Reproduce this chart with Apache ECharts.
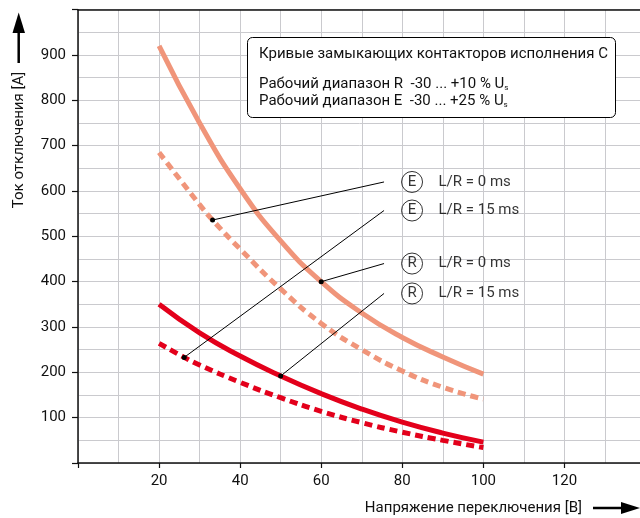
<!DOCTYPE html>
<html>
<head>
<meta charset="utf-8">
<script src="https://cdn.jsdelivr.net/npm/echarts@6/dist/echarts.min.js"></script>
<style>
  html, body { margin: 0; padding: 0; background: #fff; }
  #main { width: 640px; height: 518px; }
</style>
</head>
<body>
<div id="main"></div>
<script>
// curves: [voltage V, current A]
var orangeSolid = [[20, 920], [30, 750], [40, 605], [50, 490], [60, 400], [70, 331], [80, 277], [90, 234], [100, 196]];
var orangeDashed = [[20, 685], [30, 570], [33.2, 536], [40, 472], [50, 384], [60, 308], [70, 250], [80, 203], [90, 167], [100, 141]];
var redSolid = [[20, 350], [30, 287], [40, 236], [50, 192], [60, 153], [70, 119], [80, 90], [90, 66], [100, 46]];
var redDashed = [[20, 264], [26.2, 233], [30, 216], [40, 178], [50, 144], [60, 114], [70, 89], [80, 68], [90, 50], [100, 34]];

// leader lines: dot on a curve -> label
var leaderFrom = [orangeDashed[2], redDashed[1], orangeSolid[4], redSolid[3]];
var leaderTo = [[75.5, 620], [75.5, 557], [75.5, 440], [75.5, 374]];
var leaderLetter = ['E', 'E', 'R', 'R'];
var leaderText = ['L/R = 0 ms', 'L/R = 15 ms', 'L/R = 0 ms', 'L/R = 15 ms'];

var xTicks = [20, 40, 60, 80, 100, 120];
var yTicks = [100, 200, 300, 400, 500, 600, 700, 800, 900];

var FONT = 'Roboto';
var ORANGE = '#f0957a';
var RED = '#e3001b';
var GRID = '#cacace';

var myChart = echarts.init(document.getElementById('main'));

function curve(data, color, dashed) {
    return {
        type: 'line',
        data: data,
        smooth: 0.5,
        showSymbol: false,
        silent: true,
        lineStyle: {
            color: color,
            width: 5,
            type: dashed ? [8, 5] : 'solid',
            cap: 'butt'
        },
        z: 3
    };
}

var series = [
    curve(orangeSolid, ORANGE, false),
    curve(orangeDashed, ORANGE, true),
    curve(redSolid, RED, false),
    curve(redDashed, RED, true)
];

for (var i = 0; i < leaderFrom.length; i++) {
    series.push({
        type: 'line',
        data: [leaderFrom[i], leaderTo[i]],
        silent: true,
        symbol: 'circle',
        showSymbol: true,
        symbolSize: function (v, p) { return p.dataIndex === 0 ? 5 : 0; },
        itemStyle: { color: '#000' },
        lineStyle: { color: '#000', width: 1 },
        z: 5
    });
}

series.push({
    type: 'scatter',
    silent: true,
    symbolSize: 1,
    itemStyle: { color: 'transparent' },
    data: leaderTo,
    label: {
        show: true,
        position: 'right',
        distance: 17,
        color: '#000',
        formatter: function (p) {
            return '{c|' + leaderLetter[p.dataIndex] + '}{t|' + leaderText[p.dataIndex] + '}';
        },
        rich: {
            c: {
                width: 21, height: 21, lineHeight: 21,
                align: 'center',
                borderColor: '#000', borderWidth: 1, borderRadius: 11,
                fontFamily: FONT, fontSize: 15, color: '#000'
            },
            t: {
                padding: [0, 0, 0, 16],
                fontFamily: FONT, fontSize: 15, color: '#000'
            }
        }
    },
    z: 6
});

var option = {
    animation: false,
    backgroundColor: '#fff',
    textStyle: { fontFamily: FONT },
    grid: { left: 78, top: 9.7, right: -5.5, height: 453.3, containLabel: false, outerBoundsMode: 'none' },
    xAxis: [{
        type: 'value',
        min: 0, max: 140, interval: 20,
        axisLine: { show: true, onZero: false, lineStyle: { color: '#111', width: 1.5 } },
        axisTick: { show: true, length: 5, lineStyle: { color: '#111', width: 1.2 } },
        axisLabel: {
            margin: 11, fontSize: 15, color: '#111', fontFamily: FONT,
            formatter: function (v) { return xTicks.indexOf(v) >= 0 ? v : ''; }
        },
        splitLine: { show: true, lineStyle: { color: GRID, width: 1 } },
        minorTick: { show: false, splitNumber: 2 },
        minorSplitLine: { show: true, lineStyle: { color: GRID, width: 1 } }
    }, {
        type: 'value',
        position: 'top',
        min: 0, max: 140,
        axisLine: { show: true, onZero: false, lineStyle: { color: '#111', width: 1.5 } },
        axisTick: { show: false },
        axisLabel: { show: false },
        splitLine: { show: false }
    }],
    yAxis: {
        type: 'value',
        min: 0, max: 1000, interval: 100,
        axisLine: { show: true, onZero: false, lineStyle: { color: '#111', width: 1.5 } },
        axisTick: { show: true, length: 6, lineStyle: { color: '#111', width: 1.2 } },
        axisLabel: {
            margin: 12, fontSize: 15, color: '#111', fontFamily: FONT,
            formatter: function (v) { return yTicks.indexOf(v) >= 0 ? v : ''; }
        },
        splitLine: { show: true, lineStyle: { color: GRID, width: 1 } },
        minorTick: { show: false, splitNumber: 2 },
        minorSplitLine: { show: true, lineStyle: { color: GRID, width: 1 } }
    },
    graphic: [
        // y axis name with arrow
        { type: 'line', shape: { x1: 18.7, y1: 63, x2: 18.7, y2: 28 }, style: { stroke: '#000', lineWidth: 2.5 } },
        { type: 'polygon', shape: { points: [[12.5, 33], [25, 33], [18.7, 12.5]] }, style: { fill: '#000' } },
        {
            type: 'text', x: 19, y: 140, rotation: Math.PI / 2,
            style: { text: 'Ток отключения [A]', fontFamily: FONT, fontSize: 15, fill: '#111', align: 'center', verticalAlign: 'middle' }
        },
        // x axis name with arrow
        {
            type: 'text', x: 582, y: 508,
            style: { text: 'Напряжение переключения [B]', fontFamily: FONT, fontSize: 15, fill: '#111', align: 'right', verticalAlign: 'middle' }
        },
        { type: 'line', shape: { x1: 593, y1: 508, x2: 626, y2: 508 }, style: { stroke: '#000', lineWidth: 2.5 } },
        { type: 'polygon', shape: { points: [[621, 502], [621, 514], [640, 508]] }, style: { fill: '#000' } },
        // info box
        {
            type: 'rect', shape: { x: 247.5, y: 37.5, width: 368, height: 80, r: 5 },
            style: { fill: '#fff', stroke: '#000', lineWidth: 1 }, z: 10
        },
        {
            type: 'text', x: 259, y: 54, z: 11,
            style: { text: 'Кривые замыкающих контакторов исполнения C', fontFamily: FONT, fontSize: 15, fill: '#111', verticalAlign: 'middle' }
        },
        {
            type: 'text', x: 259, y: 84, z: 11,
            style: {
                text: 'Рабочий диапазон R  -30 ... +10 % U{s|s}', fontFamily: FONT, fontSize: 15, fill: '#111', verticalAlign: 'middle',
                rich: { s: { fontSize: 8, padding: [8, 0, 0, 0], fontFamily: FONT, fill: '#111' } }
            }
        },
        {
            type: 'text', x: 259, y: 101, z: 11,
            style: {
                text: 'Рабочий диапазон E  -30 ... +25 % U{s|s}', fontFamily: FONT, fontSize: 15, fill: '#111', verticalAlign: 'middle',
                rich: { s: { fontSize: 8, padding: [8, 0, 0, 0], fontFamily: FONT, fill: '#111' } }
            }
        }
    ],
    series: series
};

myChart.setOption(option);
</script>
</body>
</html>
